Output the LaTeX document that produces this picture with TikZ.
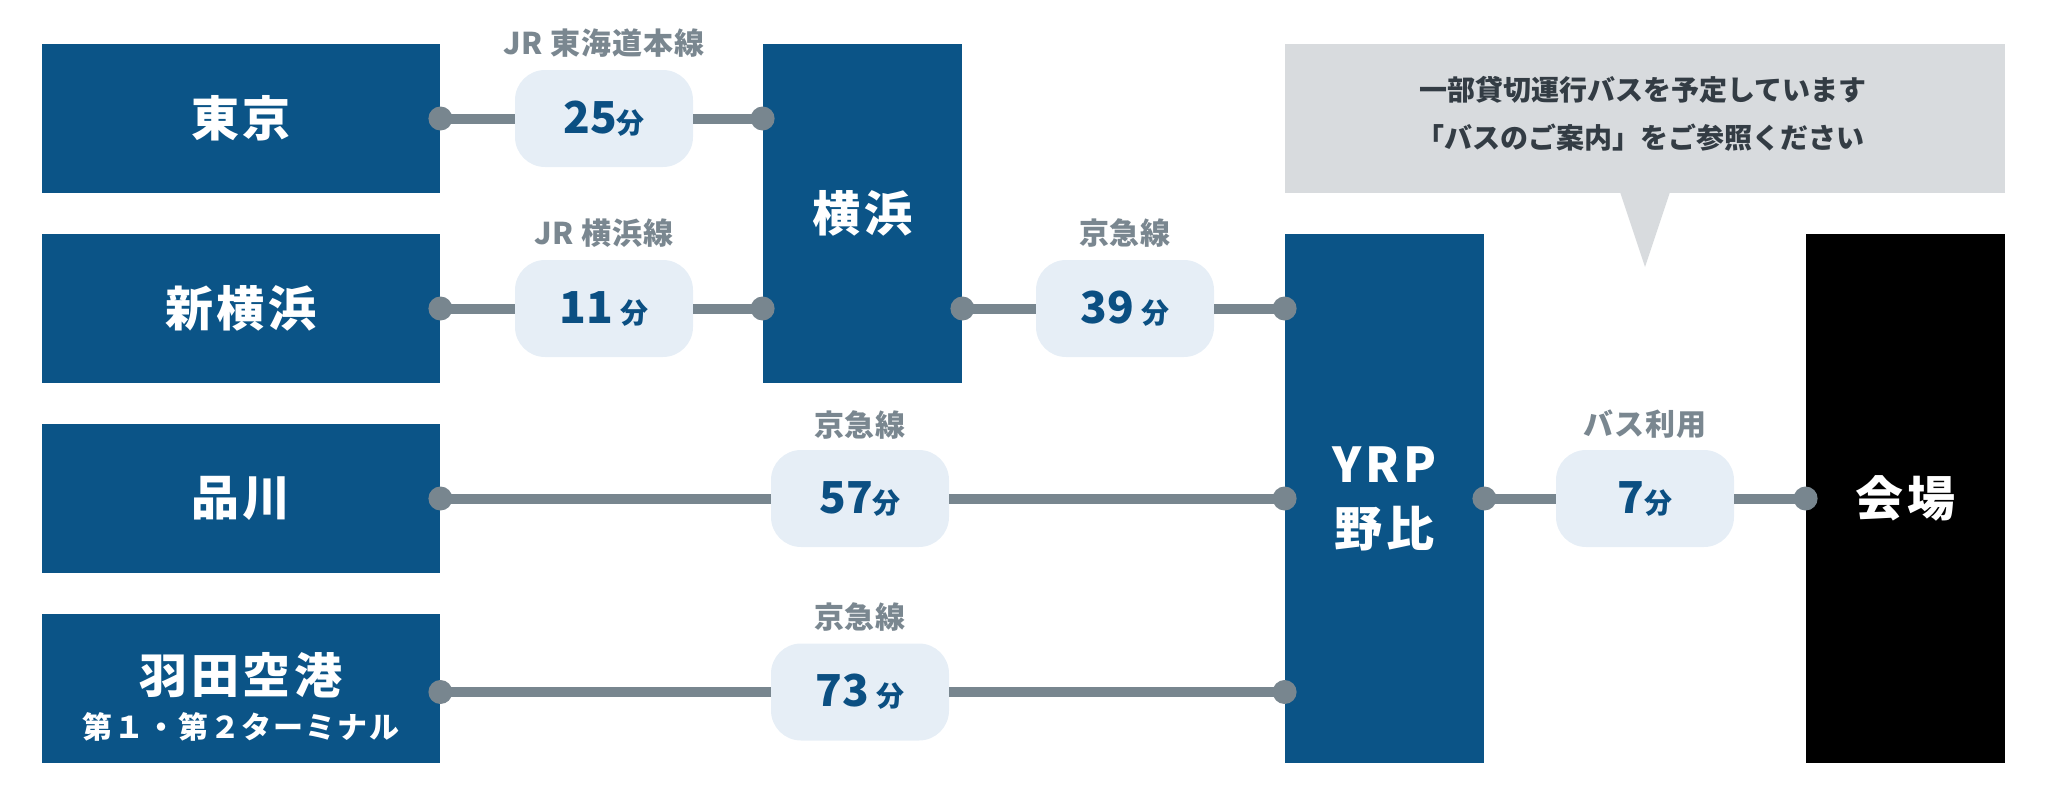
\documentclass[tikz,border=0pt]{standalone}
\usepackage{fontspec}
\setmainfont{Noto Sans CJK JP}
\definecolor{navy}{HTML}{0B5487}
\definecolor{pillbg}{HTML}{E6EEF6}
\definecolor{pilltxt}{HTML}{0B4F82}
\definecolor{lngray}{HTML}{78868F}
\definecolor{lblgray}{HTML}{7A8790}
\definecolor{callbg}{HTML}{D8DBDE}
\definecolor{calltxt}{HTML}{333C44}
\tikzset{
  stn/.style={fill=navy, text=white, font=\bfseries\fontsize{24}{32}\selectfont\addfontfeature{LetterSpace=8}, align=center, inner sep=0pt, minimum width=199pt, minimum height=74.5pt},
  tall/.style={stn, minimum width=99.5pt},
  pill/.style={fill=pillbg, rounded corners=15pt, minimum width=89pt, minimum height=48.5pt, inner sep=0pt, text=pilltxt, font=\bfseries\fontsize{22}{24}\selectfont},
  lbl/.style={text=lblgray, font=\bfseries\fontsize{15}{18}\selectfont\addfontfeature{LetterSpace=3}, inner sep=0pt},
  ctxt/.style={text=calltxt, font=\bfseries\fontsize{14}{16}\selectfont, inner sep=0pt},
  conn/.style={draw=lngray, line width=5pt},
  dotc/.style={fill=lngray}
}
\newcommand{\fen}{{\fontsize{14}{14}\selectfont 分}}
\begin{document}
\begin{tikzpicture}[x=0.5pt,y=-0.5pt]
\useasboundingbox (0,0) rectangle (2045,803);
% stations
\node[stn] (tokyo) at (241,118.5) {東京};
\node[stn] (shinyoko) at (241,308.5) {新横浜};
\node[stn] (shinagawa) at (241,498.5) {品川};
\node[stn] (haneda) at (241,688.5) {};
\node[text=white, font=\bfseries\fontsize{24}{28}\selectfont\addfontfeature{LetterSpace=8}, inner sep=0pt] (hanedaT) at (241,675) {羽田空港};
\node[text=white, font=\bfseries\fontsize{15}{18}\selectfont\addfontfeature{LetterSpace=6}, inner sep=0pt] (hanedaS) at (241,727) {第１・第２ターミナル};
\node[tall, minimum height=169.5pt] (yoko) at (862.5,213.5) {横浜};
\node[tall, minimum height=264.5pt] (yrp) at (1384.5,498.5) {YRP\\野比};
\node[tall, fill=black, minimum height=264.5pt] (venue) at (1905.5,498.5) {会場};
% callout
\fill[callbg] (1285,44) rectangle (2005,193);
\fill[callbg] (1620,192) -- (1645,267) -- (1670,192) -- cycle;
\node[ctxt] (c1) at (1643,90) {一部貸切運行バスを予定しています};
\node[ctxt] (c2) at (1640,138) {「バスのご案内」をご参照ください};
% pills
\node[pill] (p25) at (604,118.5) {25\fen};
\node[pill] (p11) at (604,308.5) {11\,\fen};
\node[pill] (p39) at (1125,308.5) {39\,\fen};
\node[pill] (p57) at (860,498.5) {57\fen};
\node[pill] (p73) at (860,692) {73\,\fen};
\node[pill] (p7) at (1645,498.5) {7\fen};
% labels
\node[lbl] (l25) at (604,43) {JR 東海道本線};
\node[lbl] (l11) at (604,233) {JR 横浜線};
\node[lbl] (l39) at (1125,233) {京急線};
\node[lbl] (l57) at (860,425) {京急線};
\node[lbl] (l73) at (860,617) {京急線};
\node[lbl] (l7) at (1645,424) {バス利用};
% connectors
\draw[conn] (tokyo.east) -- (p25.west);
\draw[conn] (p25.east) -- (yoko.west |- p25.east);
\draw[conn] (shinyoko.east) -- (p11.west);
\draw[conn] (p11.east) -- (yoko.west |- p11.east);
\draw[conn] (yoko.east |- p39.west) -- (p39.west);
\draw[conn] (p39.east) -- (yrp.west |- p39.east);
\draw[conn] (shinagawa.east) -- (p57.west);
\draw[conn] (p57.east) -- (yrp.west |- p57.east);
\draw[conn] (haneda.east |- p73.west) -- (p73.west);
\draw[conn] (p73.east) -- (yrp.west |- p73.east);
\draw[conn] (yrp.east |- p7.west) -- (p7.west);
\draw[conn] (p7.east) -- (venue.west |- p7.east);
% dots
\fill[dotc] (tokyo.east) circle (6pt);
\fill[dotc] (yoko.west |- p25.east) circle (6pt);
\fill[dotc] (shinyoko.east) circle (6pt);
\fill[dotc] (yoko.west |- p11.east) circle (6pt);
\fill[dotc] (yoko.east |- p39.west) circle (6pt);
\fill[dotc] (yrp.west |- p39.east) circle (6pt);
\fill[dotc] (shinagawa.east) circle (6pt);
\fill[dotc] (yrp.west |- p57.east) circle (6pt);
\fill[dotc] (haneda.east |- p73.west) circle (6pt);
\fill[dotc] (yrp.west |- p73.east) circle (6pt);
\fill[dotc] (yrp.east |- p7.west) circle (6pt);
\fill[dotc] (venue.west |- p7.east) circle (6pt);
\end{tikzpicture}
\end{document}
